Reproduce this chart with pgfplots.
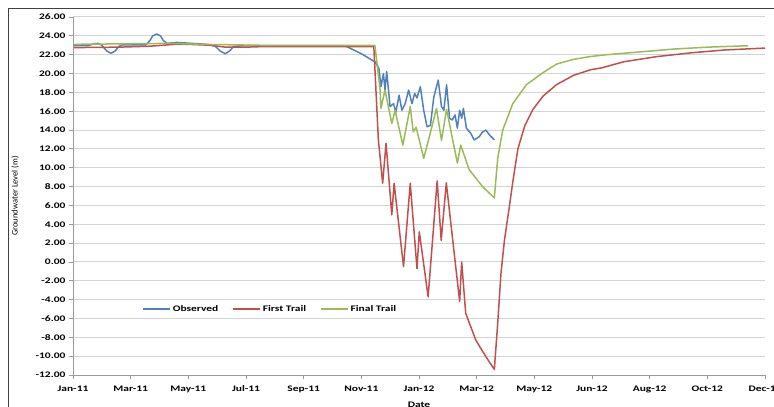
\documentclass[border=0pt]{standalone}
\usepackage{pgfplots}
\pgfplotsset{compat=1.18}
\usepackage{fontspec}
\setmainfont{Carlito}
\newfontfamily\stretchfont[FakeStretch=1.35]{Carlito}
\newcommand\tf{\stretchfont\bfseries\fontsize{8.5bp}{10bp}\selectfont}
\newcommand\yf{\fontspec{Carlito}\fontsize{8.5bp}{10bp}\selectfont}
\definecolor{obs}{HTML}{4F81BD}
\definecolor{first}{HTML}{C0504D}
\definecolor{final}{HTML}{9BBB59}
\definecolor{gridgray}{HTML}{D4D4D4}
\definecolor{axgray}{HTML}{9A9A9A}
\begin{document}
\begin{tikzpicture}
\path[use as bounding box] (-73bp,-32bp) rectangle (701bp,375bp);
\draw[color=black!75, line width=0.8bp] (-65bp,-60bp) rectangle (720bp,367bp);
\begin{axis}[
  at={(0,0)}, anchor=south west,
  scale only axis, width=692bp, height=358bp,
  xmin=0, xmax=720, ymin=-12, ymax=26,
  xtick={0,60,...,720},
  xticklabels={Jan-11,Mar-11,May-11,Jul-11,Sep-11,Nov-11,Jan-12,Mar-12,May-12,Jun-12,Aug-12,Oct-12,Dec-12},
  ytick={-12,-10,...,26},
  /pgf/number format/fixed, /pgf/number format/fixed zerofill,
  /pgf/number format/precision=2, /pgf/number format/assume math mode=true,
  ymajorgrids, major grid style={color=gridgray, line width=1bp},
  axis x line*=bottom, axis y line*=left,
  axis line style={-, color=axgray, line width=0.8bp},
  tick align=outside, major tick length=4bp,
  tick style={color=axgray, line width=0.8bp},
  tick label style={font=\tf},
  xticklabel style={yshift=-3bp},
  xlabel={Date}, xlabel style={font=\tf, at={(axis description cs:0.5,-0.0838)}, anchor=center},
  ylabel={Groundwater Level (m)}, ylabel style={font=\yf, at={(axis description cs:-0.0838,0.5)}, anchor=center},
  legend columns=3,
  legend style={at={(0.285,0.184)}, anchor=center, draw=none, fill=white, font=\tf,
    /tikz/every even column/.append style={column sep=12bp}},
  legend image code/.code={\draw[#1] (0bp,0bp) -- (27bp,0bp);},
  line join=round,
]
\addplot[color=obs, line width=1.5bp] coordinates {
(1,22.95)(15,22.95)(22,23.15)(26,23.2)(30,23.0)(35,22.4)(39.6,22.15)(44,22.4)(48,22.9)(52,23.05)
(76,23.05)(80,23.5)(83,24.0)(87,24.2)(91,24.0)(94,23.5)(98,23.2)(108,23.3)(139,23.1)(148,22.9)
(153,22.4)(158.5,22.1)(163,22.4)(167,22.85)(175,22.95)(283,22.95)(300,22.1)(314,21.25)(318.3,20.55)
(320.4,18.6)(323,20.0)(324.6,18.25)(326.4,20.2)(329.9,16.5)(333.5,16.8)(335.9,15.9)(339.3,17.7)
(342.2,16.1)(345.6,16.8)(349.2,18.25)(352.7,16.8)(355.5,17.9)(357.9,17.4)(361.4,18.6)(364.9,16.1)
(368.4,14.35)(371.9,14.5)(375.4,17.5)(380.0,19.3)(383.4,16.5)(385.9,16.1)(388.7,18.8)(391.8,15.25)
(394.6,15.07)(397.5,15.6)(399.9,14.2)(402.3,16.1)(404.4,15.25)(406.2,16.3)(409.3,14.2)(413.9,13.65)
(417.4,12.95)(422.7,13.3)(426.1,13.8)(429.6,14.0)(433.2,13.5)(438.4,12.95)
};
\addlegendentry{Observed}
\addplot[color=first, line width=1.5bp] coordinates {
(1,22.75)(48,22.8)(80,22.9)(106,23.1)(119,23.1)(143,23.0)(158.5,22.8)(180,22.8)(195,22.85)(313,22.85)
(317.7,13.0)(322.2,8.35)(325.7,12.6)(331.7,5.0)(334.1,8.35)(343.9,-0.5)(350.9,8.35)(357.9,-0.7)
(360.3,3.2)(369.5,-3.7)(378.9,8.6)(383.1,2.3)(388.4,8.4)(402.3,-4.2)(404.4,0.0)(408.6,-5.45)
(419.1,-8.3)(429.6,-10.06)(438.4,-11.4)(441.9,-6.5)(445.3,-1.2)(448.9,2.3)(454.2,6.0)(457.6,8.5)
(462.9,12.0)(470.2,14.5)(478.6,16.2)(489.1,17.6)(502.8,18.8)(520.6,19.8)(538.4,20.4)(550,20.6)
(573.1,21.25)(607.7,21.8)(643.4,22.2)(678,22.5)(720,22.7)
};
\addlegendentry{First Trail}
\addplot[color=final, line width=1.5bp] coordinates {
(1,23.1)(100.8,23.2)(132.2,23.1)(195.2,23.0)(314.1,23.0)(319.4,18.4)(320.4,16.3)(324.6,18.25)
(331.7,14.7)(335.1,16.1)(343.2,12.4)(350.9,16.5)(354,13.8)(357,14.3)(364.9,11.0)(370.8,13.3)
(378.2,16.3)(383.4,12.9)(388.7,16.2)(399.9,10.5)(403.4,12.4)(412.2,9.8)(426.1,8.0)(438.4,6.8)
(441.9,11.0)(447.1,14.0)(457.6,16.8)(471.6,18.8)(489.1,20.1)(503.1,21.0)(520.6,21.5)(538.1,21.8)
(555.6,22.0)(590.6,22.3)(625.6,22.6)(660.5,22.8)(702.5,22.95)
};
\addlegendentry{Final Trail}
\end{axis}
\end{tikzpicture}
\end{document}
